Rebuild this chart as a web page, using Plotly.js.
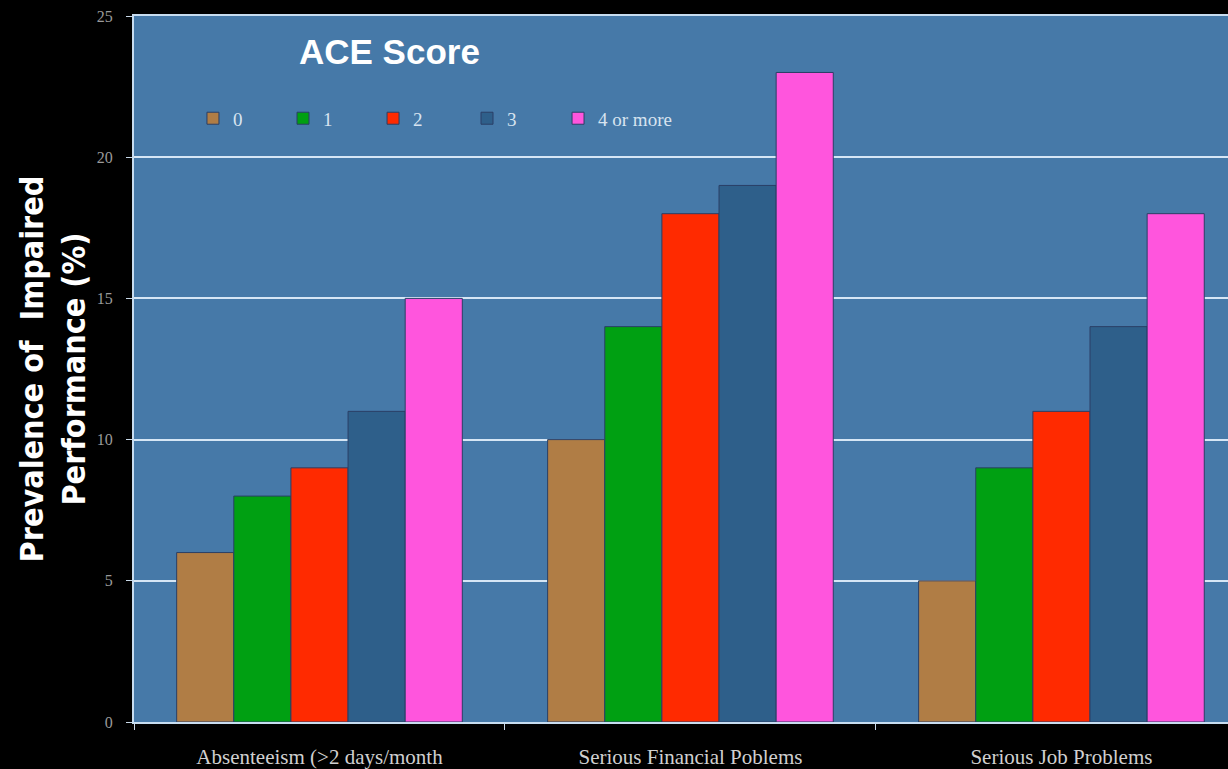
<!DOCTYPE html>
<html>
<head>
<meta charset="utf-8">
<script src="https://cdn.plot.ly/plotly-3.0.1.min.js"></script>
<style>
  html, body { margin: 0; padding: 0; background: #000; overflow: hidden; }
  #chart { width: 1228px; height: 769px; }
</style>
</head>
<body>
<div id="chart"></div>
<script>
// Outcome categories along the x axis
const categories = [
  "Absenteeism (>2 days/month",
  "Serious Financial Poblems",
  "Serious Job Problems"
];

// ACE score groups (legend entries)
const aceGroups = ["0", "1", "2", "3", "4 or more"];

// Prevalence of impaired performance (%) per ACE score group
const ace0 = [6, 10, 5];
const ace1 = [8, 14, 9];
const ace2 = [9, 18, 11];
const ace3 = [11, 19, 14];
const ace4plus = [15, 23, 18];

const seriesValues = [ace0, ace1, ace2, ace3, ace4plus];
const barColors = ["#B07D45", "#00A012", "#FF2A00", "#2E5F8A", "#FF55DD"];

// Each ACE group gets its own legend box so the entries can sit on a fixed pitch
const legendIds = ["legend", "legend2", "legend3", "legend4", "legend5"];
const legendX = [0.0539, 0.1362, 0.2185, 0.3044, 0.3876];

const traces = seriesValues.map((vals, i) => ({
  type: "bar",
  name: aceGroups[i],
  x: categories,
  y: vals,
  legend: legendIds[i],
  marker: {
    color: barColors[i],
    line: { color: "#2A3F66", width: 1 }
  },
  hoverinfo: "x+y+name"
}));

const legendStyle = (x) => ({
  orientation: "h",
  x: x,
  y: 0.855,
  xanchor: "left",
  yanchor: "middle",
  bgcolor: "rgba(0,0,0,0)",
  borderwidth: 0,
  font: { family: "Liberation Serif, serif", size: 19, color: "#D8E4F0" },
  itemwidth: 30
});

const layout = {
  width: 1228,
  height: 769,
  paper_bgcolor: "#000000",
  plot_bgcolor: "#4679A8",
  margin: { l: 134, r: 0, t: 16, b: 47 },
  barmode: "group",
  bargap: 0.23,
  bargroupgap: 0,
  showlegend: true,
  xaxis: {
    type: "category",
    range: [-0.5, 2.449],
    tickson: "boundaries",
    ticks: "outside",
    ticklen: 6,
    tickcolor: "#C8D8E8",
    showline: true,
    mirror: true,
    linecolor: "#C8DDF0",
    linewidth: 2,
    showgrid: false,
    ticklabelstandoff: 15,
    tickfont: { family: "Liberation Serif, serif", size: 21, color: "#D0D0D0" },
    fixedrange: true
  },
  yaxis: {
    range: [0, 25],
    tick0: 0,
    dtick: 5,
    ticks: "outside",
    ticklen: 6,
    tickcolor: "#C8D8E8",
    showline: true,
    linecolor: "#C8DDF0",
    linewidth: 2,
    showgrid: true,
    gridcolor: "#D6E6F5",
    gridwidth: 2,
    zeroline: false,
    ticklabelstandoff: 10,
    tickfont: { family: "Liberation Serif, serif", size: 16, color: "#9A9A9A" },
    title: {
      text: "Prevalence of  Impaired<br>Performance (%)",
      font: { family: "DejaVu Sans Condensed, Liberation Sans, sans-serif", size: 32, color: "#FFFFFF", weight: "bold" },
      standoff: 2
    },
    fixedrange: true
  },
  annotations: [
    {
      text: "<b>ACE Score</b>",
      xref: "paper",
      yref: "paper",
      x: 0.149,
      y: 0.95,
      xanchor: "left",
      yanchor: "middle",
      showarrow: false,
      font: { family: "Liberation Sans, Arial, sans-serif", size: 35, color: "#FFFFFF" }
    }
  ]
};

legendIds.forEach((id, i) => { layout[id] = legendStyle(legendX[i]); });

Plotly.newPlot("chart", traces, layout, { displayModeBar: false, staticPlot: true });
</script>
</body>
</html>
